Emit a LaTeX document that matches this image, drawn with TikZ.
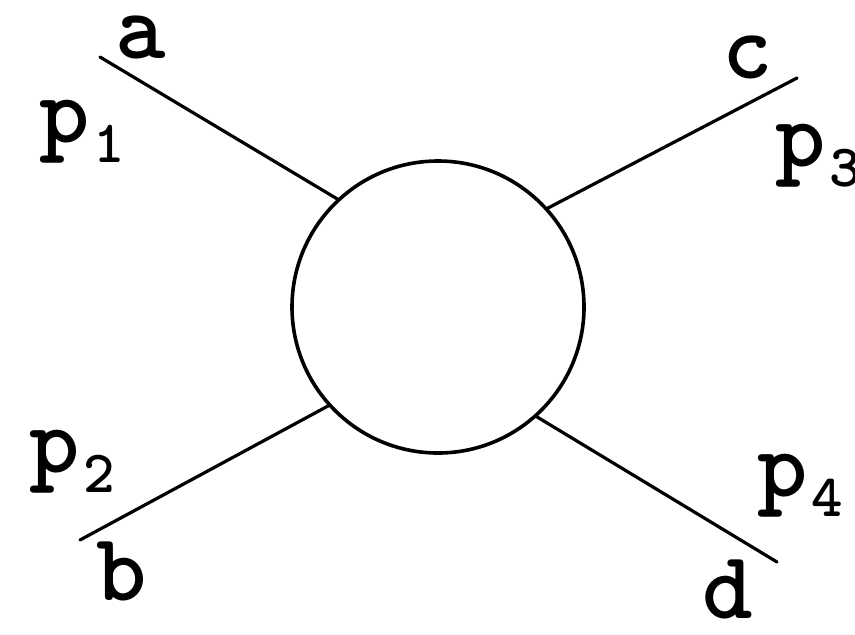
\documentclass[tikz,border=0pt]{standalone}
\usetikzlibrary{calc}
\newcommand{\pmom}[1]{p\kern1pt\raisebox{-5pt}{\fontsize{15}{15}\selectfont#1}}

\begin{document}
\begin{tikzpicture}[x=1pt,y=-1pt,scale=0.25,line cap=round,line join=round,
    leg/.style={line width=0.8pt},
    lbl/.style={anchor=base,inner sep=0pt,font=\ttfamily\bfseries\fontsize{24}{24}\selectfont}]
    \path[use as bounding box] (0,0) rectangle (855,634);

    \node[circle,draw,line width=0.9pt,minimum size=73pt,inner sep=0pt] (blob) at (438,307) {};

    \coordinate (ea) at (100,57);
    \coordinate (ec) at (797,78);
    \coordinate (eb) at (80,540);
    \coordinate (ed) at (777,562);

    \draw[leg] (ea) -- (blob.133);
    \draw[leg] (ec) -- (blob.42);
    \draw[leg] (eb) -- (blob.222);
    \draw[leg] (ed) -- (blob.312);

    \node[lbl] (la) at (141,58) {a};
    \node[lbl] (lc) at (748,78) {c};
    \node[lbl] (lb) at (122,600) {b};
    \node[lbl] (ld) at (728,618) {d};

    \node[lbl] (lp1) at (82,142) {\pmom{1}};
    \node[lbl] (lp2) at (72,472) {\pmom{2}};
    \node[lbl] (lp3) at (818,166) {\pmom{3}};
    \node[lbl] (lp4) at (800,496) {\pmom{4}};
\end{tikzpicture}
\end{document}
